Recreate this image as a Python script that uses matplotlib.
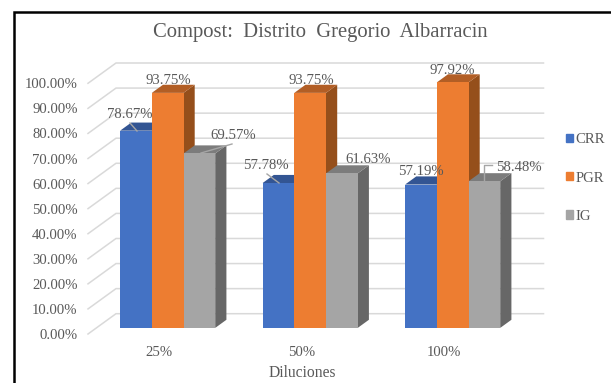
import matplotlib
matplotlib.use("Agg")
import matplotlib.pyplot as plt
from matplotlib.patches import Patch

W, H = 611, 383

# chart values
diluciones = ['25%', '50%', '100%']
crr = [78.67, 57.78, 57.19]
pgr = [93.75, 93.75, 97.92]
ig = [69.57, 61.63, 58.48]
y_ticks = [0, 10, 20, 30, 40, 50, 60, 70, 80, 90, 100]

FRONT = {'CRR': '#4472c4', 'PGR': '#ed7d31', 'IG': '#a5a5a5'}
TOP = {'CRR': '#335593', 'PGR': '#b25e25', 'IG': '#7c7c7c'}
SIDE = {'CRR': '#2a4674', 'PGR': '#954f1b', 'IG': '#676767'}
TEXT = '#595959'
GRID = '#d9d9d9'

plt.rcParams['font.family'] = ['Liberation Serif', 'DejaVu Serif']

fig = plt.figure(figsize=(W / 100, H / 100), dpi=100)

# axes spans the front edge of the floor, in pixels
left, right, bottom, top = 88, 515.5, 334, 83.3
ax = fig.add_axes([left / W, 1 - bottom / H, (right - left) / W, (bottom - top) / H])
ax.set_xlim(-0.5, 2.5)
ax.set_ylim(0, 100)
ax.patch.set_visible(False)
for s in ax.spines.values():
    s.set_visible(False)

# floor depth in data units
DX = 28 / (right - left) * 3
DY = 20.3 / (bottom - top) * 100
BAR_W = 0.2225


def depth(x, y, d):
    return x + d * DX, y + d * DY


# side walls and back wall grid lines
for t in y_ticks:
    x1, y1 = depth(-0.5, t, 1)
    x2, y2 = depth(2.5, t, 1)
    ax.plot([-0.5, x1, x2], [t, y1, y2], color=GRID, lw=1.1, clip_on=False, zorder=1,
            solid_joinstyle='miter')


def draw_bars(name, values, offset, z):
    for i, v in enumerate(values):
        xl = i + offset - BAR_W / 2
        xr = xl + BAR_W
        # front face
        bx, by = depth(xl, 0, 0.3)
        ax.bar(bx, v, BAR_W, bottom=by, align='edge', color=FRONT[name], zorder=z, clip_on=False)
        # side and top faces, pushed back by the bar depth
        a, b = depth(xr, 0, 0.3), depth(xr, 0, 0.7)
        c, d = depth(xr, v, 0.7), depth(xr, v, 0.3)
        ax.fill([a[0], b[0], c[0], d[0]], [a[1], b[1], c[1], d[1]],
                color=SIDE[name], lw=0, zorder=z - 0.5, clip_on=False)
        e, f = depth(xl, v, 0.3), depth(xl, v, 0.7)
        ax.fill([e[0], f[0], c[0], d[0]], [e[1], f[1], c[1], d[1]],
                color=TOP[name], lw=0, zorder=z - 0.5, clip_on=False)


# left to right, each bar hides the side of the one before it
draw_bars('CRR', crr, -BAR_W, 3)
draw_bars('PGR', pgr, 0, 4)
draw_bars('IG', ig, BAR_W, 5)

ax.set_yticks(y_ticks)
ax.set_yticklabels([f'{t:.2f}%' for t in y_ticks])
ax.set_xticks(range(len(diluciones)))
ax.set_xticklabels(diluciones)
ax.tick_params(axis='y', length=0, pad=7.5, labelsize=10.6, labelcolor=TEXT)
ax.tick_params(axis='x', length=0, pad=9, labelsize=10.6, labelcolor=TEXT)


def px(x, y):
    # figure pixel position to data, for labels and leader lines
    return ax.transData.inverted().transform((x, H - y))


def value_label(v, x, y, leader=None):
    lx, ly = px(x, y)
    ax.text(lx, ly, f'{v:.2f}%', ha='center', va='center', fontsize=10.6, color=TEXT,
            zorder=8, clip_on=False)
    if leader:
        pts = [px(*p) for p in leader]
        ax.plot([p[0] for p in pts], [p[1] for p in pts], color='#a6a6a6', lw=1,
                zorder=7, clip_on=False)


value_label(crr[0], 130, 114, [(130, 123), (137, 131)])
value_label(pgr[0], 168, 81)
value_label(ig[0], 233, 136, [(201, 153), (232, 144)])
value_label(crr[1], 266, 166, [(267, 174), (279, 183)])
value_label(pgr[1], 311, 81)
value_label(ig[1], 368, 160)
value_label(crr[2], 421, 172)
value_label(pgr[2], 452, 71)
value_label(ig[2], 519, 168, [(484, 181), (484, 165), (492, 165)])

fig.text(320 / W, 1 - 32 / H, 'Compost:  Distrito  Gregorio  Albarracin', ha='center', va='center',
         fontsize=14.9, color=TEXT)
fig.text(302 / W, 1 - 373 / H, 'Diluciones', ha='center', va='center', fontsize=11.2, color=TEXT)

# black frame, left and top edges
fig.add_artist(plt.Line2D([13.7 / W, 13.7 / W, 1], [0, 1 - 12.3 / H, 1 - 12.3 / H], color='black',
                          lw=1.8, solid_joinstyle='miter'))

handles = [Patch(color=FRONT[k]) for k in ('CRR', 'PGR', 'IG')]
fig.legend(handles, ['CRR', 'PGR', 'IG'], loc='center left', bbox_to_anchor=(565.5 / W, 1 - 178 / H),
           frameon=False, fontsize=10.6, labelcolor=TEXT, handlelength=0.5, handleheight=0.5,
           handletextpad=0.2, labelspacing=1.72, borderpad=0, borderaxespad=0)

fig.savefig('out.png', dpi=100)
